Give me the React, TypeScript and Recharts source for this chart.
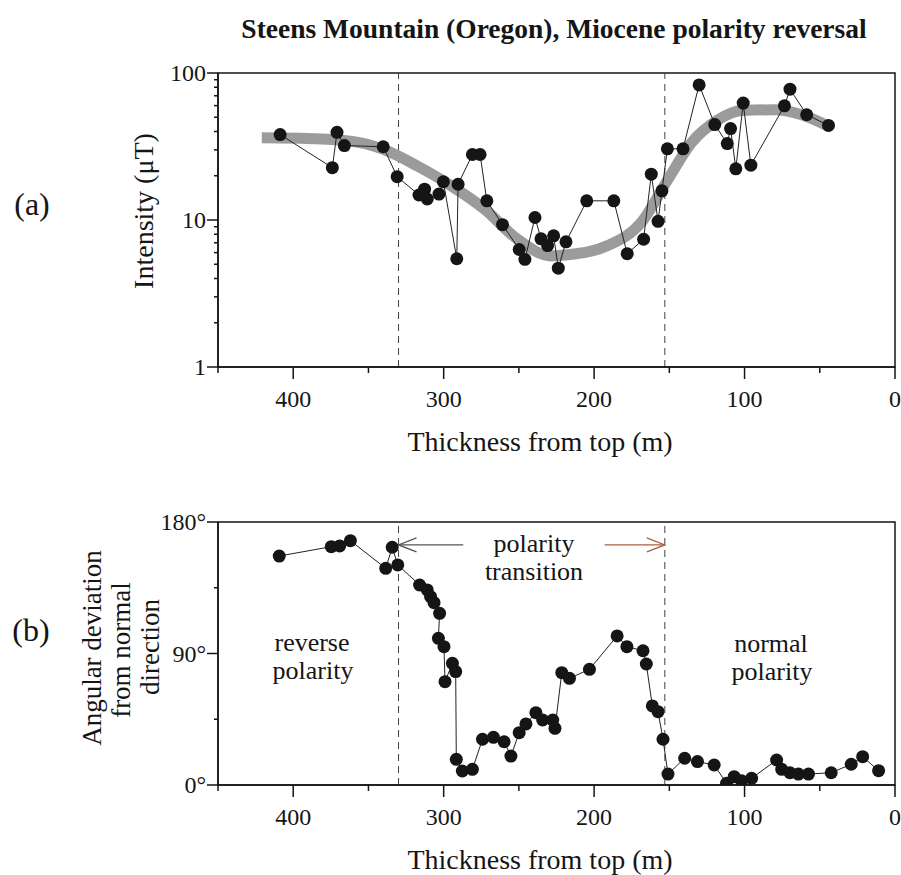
import React from 'react'
import { LineChart, Line, XAxis, YAxis, ReferenceLine, ReferenceArea } from 'recharts'

// (a) intensity (depth in m from top, intensity in µT)
const intensityDepth = [408.7, 374, 370.9, 366, 340.2, 330.9, 316.4, 312.7, 310.9, 303.1, 300.2, 291.3, 290.4, 280.9, 275.8, 271.3, 260.9, 249.8, 246, 239.3, 235.3, 230.9, 226.9, 223.8, 218.7, 204.9, 186.9, 178, 167.1, 162, 157.5, 154.9, 151.3, 140.9, 130.2, 119.8, 111.5, 109.3, 105.8, 100.9, 95.8, 73.5, 69.8, 58.7, 44.2]
const intensityValue = [38.1, 22.7, 39.5, 32.1, 31.5, 19.7, 14.8, 16.2, 13.9, 15.0, 18.2, 5.45, 17.5, 27.9, 27.9, 13.5, 9.3, 6.3, 5.4, 10.4, 7.45, 6.7, 7.8, 4.7, 7.1, 13.5, 13.5, 5.9, 7.4, 20.5, 9.8, 15.8, 30.5, 30.5, 83, 44.6, 33.1, 41.9, 22.3, 62.4, 23.6, 59.8, 77.6, 52, 44]

// smoothed trend (grey band)
const trendDepth = [420.9, 395, 362, 340, 317.5, 295, 273, 250.9, 228.7, 217.5, 190.9, 168.7, 150.9, 135.3, 117.5, 102, 79.8, 62, 44.2]
const trendValue = [36.2, 36, 34.4, 30.2, 23.3, 17.1, 11.9, 7.4, 5.7, 5.8, 6.7, 9.6, 18.9, 33.5, 48.1, 55.6, 56.2, 52, 43.4]

// (b) angular deviation from normal direction (degrees)
const deviationDepth = [409.3, 374.7, 369.1, 362, 338.5, 334.2, 330.5, 316, 310.9, 308.7, 306.4, 302.7, 303.5, 299.8, 299.1, 294.2, 292, 291.6, 287.6, 280.9, 274.2, 266.9, 259.8, 255.3, 249.8, 245.3, 238.7, 234.2, 227.5, 226, 221.5, 216.4, 203.1, 184.7, 178.2, 167.5, 165.3, 161.3, 157.5, 154.2, 150.9, 139.8, 131.3, 120.2, 112, 106.9, 102, 95.3, 78.7, 75.3, 69.8, 64.2, 57.5, 42.4, 29.1, 21.5, 10.9]
const deviationValue = [156.7, 163.1, 163.6, 167.2, 148.3, 162.7, 150.6, 136.9, 133.5, 128.9, 124.8, 117.5, 100.4, 94.7, 70.7, 83.3, 77.6, 17.6, 9.6, 10.7, 31.3, 32.6, 29.6, 19.8, 35.8, 41.8, 49.5, 44.5, 44.5, 38.8, 76.9, 73.0, 79.2, 102, 94.7, 91.9, 82.8, 54.1, 50.2, 31.3, 7.5, 18.3, 16, 13.7, 1.2, 5.7, 2.9, 4.6, 17.1, 10.7, 8.4, 7.5, 7.5, 8.4, 14.2, 19.4, 9.8]

// boundaries of the polarity transition (m)
const transitionStart = 330
const transitionEnd = 153

const depthTicks = [450, 400, 350, 300, 250, 200, 150, 100, 50, 0]
const depthLabels = [400, 300, 200, 100, 0]
const intensityTicks = [1, 2, 3, 4, 5, 6, 7, 8, 9, 10, 20, 30, 40, 50, 60, 70, 80, 90, 100]
const intensityLabels = [1, 10, 100]
const deviationTicks = [0, 45, 90, 135, 180]
const deviationLabels = [0, 90, 180]

const toRows = (xs: number[], ys: number[]) => xs.map((depth, i) => ({ depth, value: ys[i] }))

const intensityRows = toRows(intensityDepth, intensityValue)
const trendRows = toRows(trendDepth, trendValue)
const deviationRows = toRows(deviationDepth, deviationValue)

const INK = '#151515'
const FONT = '"Liberation Serif", "Times New Roman", serif'

const DepthTick = (props: any) => {
  const { x, y, payload } = props
  const major = depthLabels.includes(payload.value)
  return (
    <g>
      <line x1={x} x2={x} y1={y} y2={y + (major ? 12 : 6)} stroke={INK} strokeWidth={1.5} />
      {major && (
        <text x={x} y={y + 40} textAnchor="middle" fontSize={24} fontFamily={FONT} fill={INK}>
          {payload.value}
        </text>
      )}
    </g>
  )
}

const makeYTick = (labels: number[], suffix: string) => (props: any) => {
  const { x, y, payload } = props
  const major = labels.includes(payload.value)
  return (
    <g>
      <line x1={x} x2={x - (major ? 11 : 4)} y1={y} y2={y} stroke={INK} strokeWidth={1.5} />
      {major && (
        <text x={x - 12} y={y + 8} textAnchor="end" fontSize={24} fontFamily={FONT} fill={INK}>
          {payload.value + suffix}
        </text>
      )}
    </g>
  )
}

const IntensityTick = makeYTick(intensityLabels, '')
const DeviationTick = makeYTick(deviationLabels, '°')

const arrowShape = (color: string) => (props: any) => {
  const { x1, y1, x2, y2 } = props
  const dir = Math.sign(x2 - x1)
  return (
    <g stroke={color} strokeWidth={1.3} fill="none">
      <line x1={x1} y1={y1} x2={x2} y2={y2} />
      <polyline points={`${x2 - dir * 18},${y2 - 7} ${x2},${y2} ${x2 - dir * 18},${y2 + 7}`} />
    </g>
  )
}

export default function App() {
  return (
    <div style={{ position: 'absolute', left: 0, top: 0, width: 901, height: 875, background: '#fff' }}>
      <div style={{ position: 'absolute', left: 0, top: 0 }}>
        <LineChart width={901} height={460} margin={{ top: 73, right: 6, bottom: 0, left: 0 }}>
          <XAxis
            dataKey="depth"
            type="number"
            domain={[0, 450]}
            reversed
            ticks={depthTicks}
            interval={0}
            height={93}
            tickSize={0}
            tickMargin={0}
            tickLine={false}
            axisLine={{ stroke: INK, strokeWidth: 1.5 }}
            tick={(p: any) => <DepthTick {...p} />}
            allowDataOverflow
          />
          <YAxis
            dataKey="value"
            type="number"
            scale="log"
            domain={[1, 100]}
            ticks={intensityTicks}
            interval={0}
            width={218}
            tickSize={0}
            tickMargin={0}
            tickLine={false}
            axisLine={{ stroke: INK, strokeWidth: 1.5 }}
            tick={(p: any) => <IntensityTick {...p} />}
            allowDataOverflow
          />
          <ReferenceArea x1={450} x2={0} y1={1} y2={100} fill="none" stroke={INK} strokeWidth={1.5} />
          <ReferenceLine x={transitionStart} stroke="#444" strokeDasharray="7 5" />
          <ReferenceLine x={transitionEnd} stroke="#444" strokeDasharray="7 5" />
          <Line
            data={trendRows}
            dataKey="value"
            type="monotone"
            stroke="#9b9b9b"
            strokeWidth={11}
            dot={false}
            activeDot={false}
            isAnimationActive={false}
          />
          <Line
            data={intensityRows}
            dataKey="value"
            type="linear"
            stroke="#222"
            strokeWidth={1}
            dot={{ r: 6.5, fill: INK, stroke: INK, strokeWidth: 0 }}
            activeDot={false}
            isAnimationActive={false}
          />
        </LineChart>
      </div>

      <div style={{ position: 'absolute', left: 0, top: 470 }}>
        <LineChart width={901} height={375} margin={{ top: 52, right: 6, bottom: 0, left: 0 }}>
          <XAxis
            dataKey="depth"
            type="number"
            domain={[0, 450]}
            reversed
            ticks={depthTicks}
            interval={0}
            height={60}
            tickSize={0}
            tickMargin={0}
            tickLine={false}
            axisLine={{ stroke: INK, strokeWidth: 1.5 }}
            tick={(p: any) => <DepthTick {...p} />}
            allowDataOverflow
          />
          <YAxis
            dataKey="value"
            type="number"
            domain={[0, 180]}
            ticks={deviationTicks}
            interval={0}
            width={218}
            tickSize={0}
            tickMargin={0}
            tickLine={false}
            axisLine={{ stroke: INK, strokeWidth: 1.5 }}
            tick={(p: any) => <DeviationTick {...p} />}
            allowDataOverflow
          />
          <ReferenceArea x1={450} x2={0} y1={0} y2={180} fill="none" stroke={INK} strokeWidth={1.5} />
          <ReferenceLine x={transitionStart} stroke="#444" strokeDasharray="7 5" />
          <ReferenceLine x={transitionEnd} stroke="#444" strokeDasharray="7 5" />
          <ReferenceLine
            segment={[{ x: 287, y: 164.3 }, { x: transitionStart, y: 164.3 }]}
            shape={arrowShape('#555')}
          />
          <ReferenceLine
            segment={[{ x: 193, y: 164.3 }, { x: transitionEnd, y: 164.3 }]}
            shape={arrowShape('#a8603e')}
          />
          <Line
            data={deviationRows}
            dataKey="value"
            type="linear"
            stroke="#222"
            strokeWidth={1}
            dot={{ r: 6.5, fill: INK, stroke: INK, strokeWidth: 0 }}
            activeDot={false}
            isAnimationActive={false}
          />
        </LineChart>
      </div>

      <svg
        width={901}
        height={875}
        style={{ position: 'absolute', left: 0, top: 0, pointerEvents: 'none' }}
        fontFamily={FONT}
        fill={INK}
      >
        <text x={554} y={38} textAnchor="middle" fontSize={27.5} fontWeight="bold">
          Steens Mountain (Oregon), Miocene polarity reversal
        </text>

        <text x={32} y={215} textAnchor="middle" fontSize={32}>(a)</text>
        <text x={153} y={211} textAnchor="middle" fontSize={28} transform="rotate(-90 153 211)">
          Intensity (μT)
        </text>
        <text x={540} y={451} textAnchor="middle" fontSize={28}>Thickness from top (m)</text>

        <text x={31} y={641} textAnchor="middle" fontSize={32}>(b)</text>
        <text x={101} y={648} textAnchor="middle" fontSize={27} transform="rotate(-90 101 648)">
          Angular deviation
        </text>
        <text x={130} y={650} textAnchor="middle" fontSize={27} transform="rotate(-90 130 650)">
          from normal
        </text>
        <text x={159} y={647} textAnchor="middle" fontSize={27} transform="rotate(-90 159 647)">
          direction
        </text>
        <text x={540} y={869} textAnchor="middle" fontSize={28}>Thickness from top (m)</text>

        <text x={534} y={552} textAnchor="middle" fontSize={26}>polarity</text>
        <text x={534} y={580} textAnchor="middle" fontSize={26}>transition</text>
        <text x={312} y={651} textAnchor="middle" fontSize={26}>reverse</text>
        <text x={313} y={679} textAnchor="middle" fontSize={26}>polarity</text>
        <text x={771} y={652} textAnchor="middle" fontSize={26}>normal</text>
        <text x={772} y={680} textAnchor="middle" fontSize={26}>polarity</text>
      </svg>
    </div>
  )
}
